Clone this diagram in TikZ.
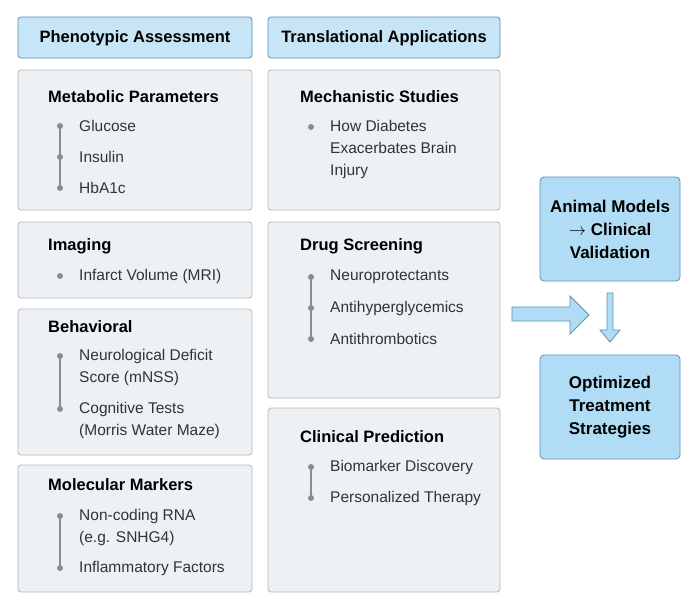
\documentclass[tikz,border=0pt]{standalone}
\usepackage{fontspec}
\setmainfont{Liberation Sans}
\usetikzlibrary{arrows.meta}
\definecolor{cardfill}{HTML}{EEF1F4}
\definecolor{cardline}{HTML}{B4B8BE}
\definecolor{bfill}{HTML}{B0DDF5}
\definecolor{hfill}{HTML}{C6E6F8}
\definecolor{bline}{HTML}{5E90B4}
\begin{document}
\begin{tikzpicture}[x=1pt,y=-1pt,
  card/.style={draw=cardline,fill=cardfill,rounded corners=3pt,line width=0.8pt},
  head/.style={draw=bline,fill=hfill,rounded corners=3pt,line width=0.8pt},
  bbox/.style={draw=bline,fill=bfill,rounded corners=4pt,line width=0.8pt},
  ttl/.style={anchor=west,inner sep=0pt,font=\fontsize{16.5}{19}\selectfont\bfseries},
  itm/.style={anchor=west,inner sep=0pt,align=left,font=\fontsize{15.5}{22}\selectfont,text=black!80},
  dot/.style={circle,fill=black!45,inner sep=0pt,minimum size=6pt},
  vl/.style={draw=black!45,line width=1.2pt},
  big/.style={font=\fontsize{17}{23}\selectfont\bfseries,align=center}]
\useasboundingbox (0,0) rectangle (700,608);
% headers
\draw[head] (18,17) rectangle (252,58); \node[font=\fontsize{16.5}{19}\selectfont\bfseries] (h1) at (135,38) {Phenotypic Assessment};
\draw[head] (268,17) rectangle (500,58); \node[font=\fontsize{16.5}{19}\selectfont\bfseries] (h2) at (384,38) {Translational Applications};
% cards
\draw[card] (18,70) rectangle (252,210);
\draw[card] (18,222) rectangle (252,298);
\draw[card] (18,309) rectangle (252,455);
\draw[card] (18,465) rectangle (252,592);
\draw[card] (268,70) rectangle (500,210);
\draw[card] (268,222) rectangle (500,398);
\draw[card] (268,408) rectangle (500,592);
% Metabolic
\node[ttl] (t1) at (48,97) {Metabolic Parameters};
\draw[vl] (60,126) -- (60,188);
\node[dot] (d11) at (60,126) {}; \node[dot] (d12) at (60,157) {}; \node[dot] (d13) at (60,188) {};
\node[itm] (i11) at (79,126) {Glucose};
\node[itm] (i12) at (79,157) {Insulin};
\node[itm] (i13) at (79,188) {HbA1c};
% Imaging
\node[ttl] (t2) at (48,246) {Imaging};
\node[dot] (d21) at (60,276) {};
\node[itm] (i21) at (79,276) {Infarct Volume (MRI)};
% Behavioral
\node[ttl] (t3) at (48,327) {Behavioral};
\draw[vl] (60,356) -- (60,409);
\node[dot] (d31) at (60,356) {}; \node[dot] (d32) at (60,409) {};
\node[itm] (i31) at (79,367) {Neurological Deficit\\Score (mNSS)};
\node[itm] (i32) at (79,420) {Cognitive Tests\\(Morris Water Maze)};
% Molecular
\node[ttl] (t4) at (48,485) {Molecular Markers};
\draw[vl] (60,516) -- (60,568);
\node[dot] (d41) at (60,516) {}; \node[dot] (d42) at (60,568) {};
\node[itm] (i41) at (79,527) {Non-coding RNA\\(e.g. SNHG4)};
\node[itm] (i42) at (79,568) {Inflammatory Factors};
% Mechanistic
\node[ttl] (t5) at (300,97) {Mechanistic Studies};
\node[dot] (d51) at (311,127) {};
\node[itm] (i51) at (330,149) {How Diabetes\\Exacerbates Brain\\Injury};
% Drug screening
\node[ttl] (t6) at (300,246) {Drug Screening};
\draw[vl] (311,277) -- (311,339);
\node[dot] (d61) at (311,277) {}; \node[dot] (d62) at (311,308) {}; \node[dot] (d63) at (311,339) {};
\node[itm] (i61) at (330,277) {Neuroprotectants};
\node[itm] (i62) at (330,308) {Antihyperglycemics};
\node[itm] (i63) at (330,339) {Antithrombotics};
% Clinical
\node[ttl] (t7) at (300,437) {Clinical Prediction};
\draw[vl] (311,467) -- (311,498);
\node[dot] (d71) at (311,467) {}; \node[dot] (d72) at (311,498) {};
\node[itm] (i71) at (330,467) {Biomarker Discovery};
\node[itm] (i72) at (330,498) {Personalized Therapy};
% blue boxes
\draw[bbox] (540,177) rectangle (680,281);
\node[big] (am) at (610,229) {Animal Models\\$\rightarrow$ Clinical\\Validation};
\draw[bbox] (540,355) rectangle (680,459);
\node[big] (ot) at (610,407) {Optimized\\Treatment\\Strategies};
% arrows
\draw[bbox,rounded corners=0pt] (512,307) -- (570,307) -- (570,296) -- (589,315) -- (570,334) -- (570,321) -- (512,321) -- cycle;
\draw[bbox,rounded corners=0pt] (607,293) -- (613,293) -- (613,330) -- (620,330) -- (610,342) -- (600,330) -- (607,330) -- cycle;
\end{tikzpicture}
\end{document}
